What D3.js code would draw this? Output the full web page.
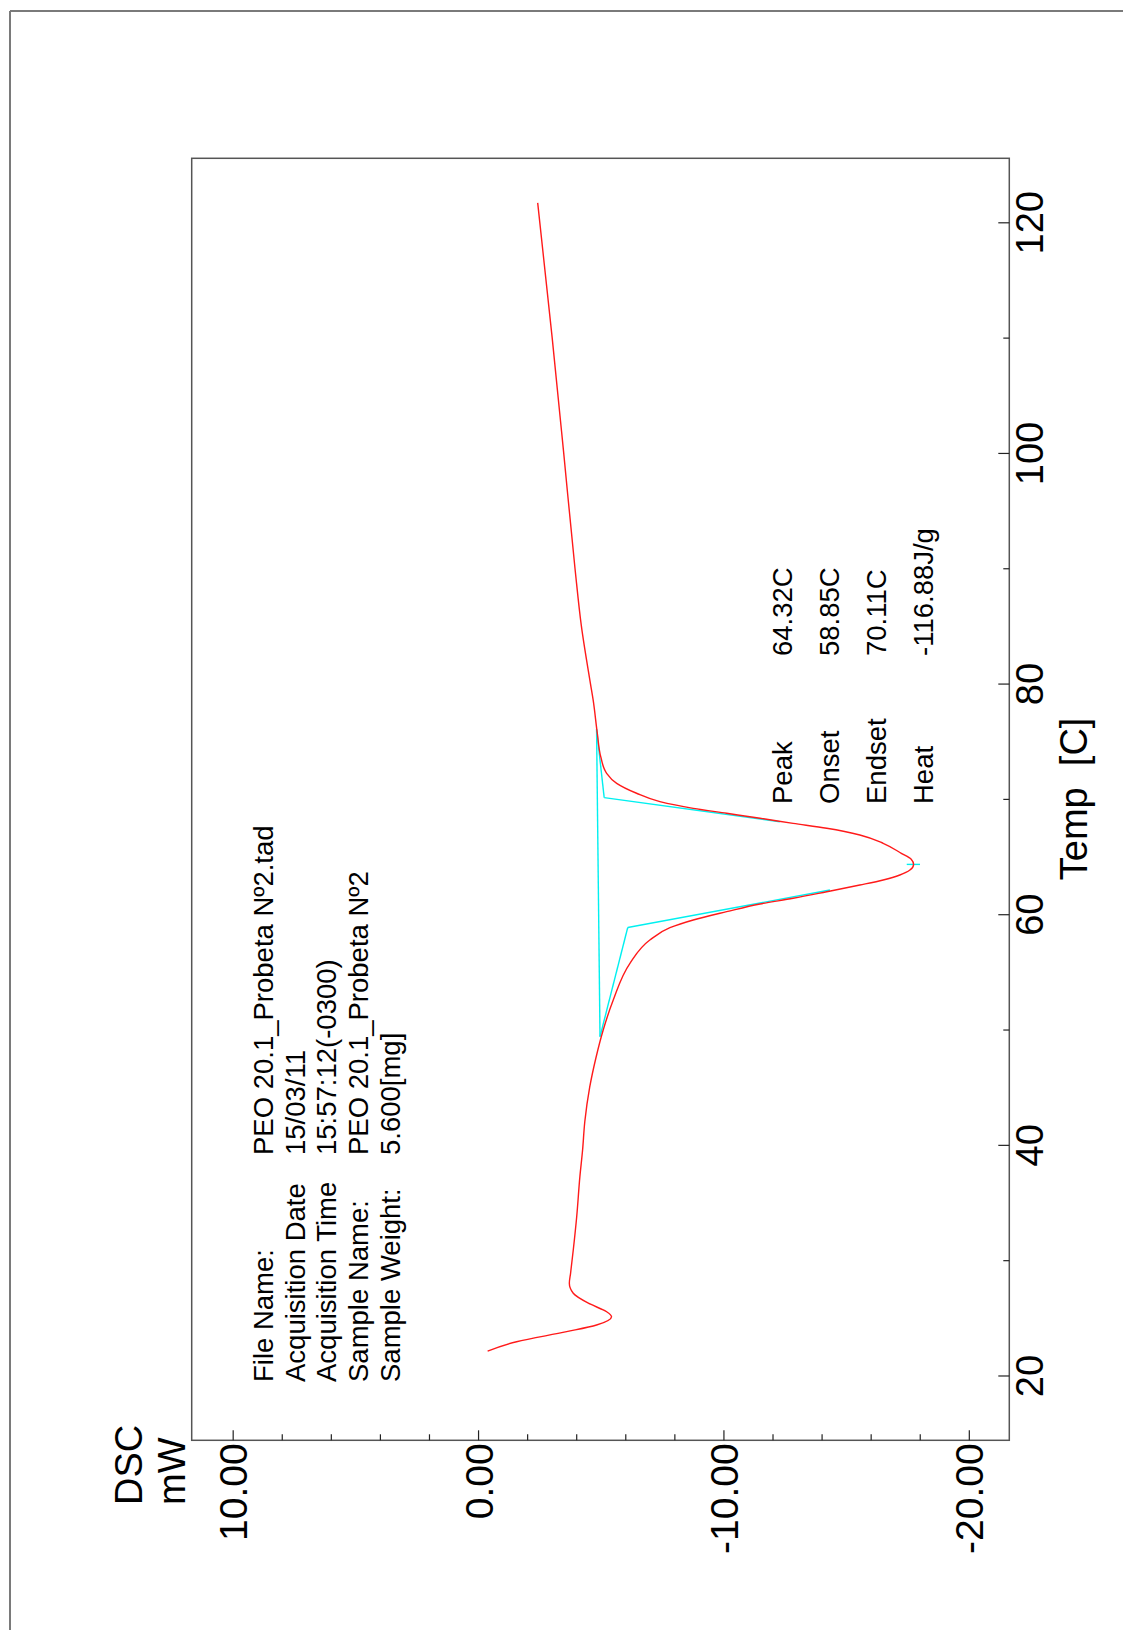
<!DOCTYPE html>
<html>
<head>
<meta charset="utf-8">
<script src="https://cdn.jsdelivr.net/npm/d3@7"></script>
<style>
  html, body { margin: 0; padding: 0; background: #fff; }
  svg { display: block; font-family: "Liberation Sans", Arial, sans-serif; }
</style>
</head>
<body>
<svg id="chart" width="1123" height="1630"></svg>
<script>
// DSC heating scan: temperature (C) and heat flow (mW)
const tempC = [22.12, 22.93, 23.80, 24.38, 25.10, 25.53, 26.20, 27.13, 28.00, 28.86, 30.88, 33.77, 37.24, 39.55,
  42.0, 45.0, 47.51, 49.96, 52.56, 55.74, 57.76, 58.83, 59.50, 60.22, 60.89, 61.38, 61.95, 62.53, 62.97, 63.40, 63.83,
  64.32, 64.75, 65.28, 66.15, 66.87, 67.45, 67.88, 68.32, 68.75, 69.18, 69.76, 70.49, 71.35, 72.22, 73.66, 75.69,
  78.58, 80.0, 85.0, 90.0, 100.0, 110.0, 121.69];
const dscMw = [-0.39, -1.57, -3.61, -4.83, -5.44, -5.24, -4.56, -3.88, -3.72, -3.77, -3.88, -4.02, -4.15, -4.26,
  -4.35, -4.55, -4.80, -5.10, -5.51, -6.19, -7.00, -7.82, -8.77, -10.13, -11.49, -12.84, -14.21, -15.56, -16.51, -17.19, -17.60,
  -17.75, -17.66, -17.25, -16.51, -15.56, -14.21, -12.84, -11.49, -10.13, -8.77, -7.41, -6.46, -5.65, -5.24, -5.00, -4.86,
  -4.69, -4.58, -4.21, -3.95, -3.49, -3.02, -2.43];

// Peak analysis results
const resultLabels = ["Peak", "Onset", "Endset", "Heat"];
const resultValues = [64.32, 58.85, 70.11, -116.88];
const resultUnits = ["C", "C", "C", "J/g"];

// Integration baseline and tangent construction (temperature C, heat flow mW)
const baselineT = [49.38, 76.04];
const baselineMw = [-4.97, -4.83];
const onsetTangentT = [58.85, 62.10];
const onsetTangentMw = [-6.10, -14.34];
const endsetTangentT = [70.11, 68.02];
const endsetTangentMw = [-5.14, -12.30];
const peakMarkMw = [-17.47, -18.01];

// Axis ticks
const dscTicks = [10, 0, -10, -20];
const dscTickLabels = ["10.00", "0.00", "-10.00", "-20.00"];
const dscMinorTicks = [8, 6, 4, 2, -2, -4, -6, -8, -12, -14, -16, -18];
const tempTicks = [20, 40, 60, 80, 100, 120];
const tempMinorTicks = [30, 50, 70, 90, 110];

// Run information
const infoLabels = ["File Name:", "Acquisition Date", "Acquisition Time", "Sample Name:", "Sample Weight:"];
const infoValues = ["PEO 20.1_Probeta N\u00BA2.tad", "15/03/11", "15:57:12(-0300)", "PEO 20.1_Probeta N\u00BA2", "5.600[mg]"];

const svg = d3.select("#chart");

// Page border
svg.append("line").attr("x1", 10).attr("y1", 11).attr("x2", 1123).attr("y2", 11)
  .attr("stroke", "#7a7a7a").attr("stroke-width", 2);
svg.append("line").attr("x1", 10).attr("y1", 11).attr("x2", 10).attr("y2", 1630)
  .attr("stroke", "#7a7a7a").attr("stroke-width", 2);

// Plot area (rotated layout: heat flow runs horizontally, temperature vertically)
const plot = { left: 191.7, top: 158.3, right: 1009.3, bottom: 1440.3 };
const x = d3.scaleLinear().domain([11.67, -21.65]).range([plot.left, plot.right]);
const y = d3.scaleLinear().domain([14.38, 125.55]).range([plot.bottom, plot.top]);

svg.append("rect")
  .attr("x", plot.left).attr("y", plot.top)
  .attr("width", plot.right - plot.left).attr("height", plot.bottom - plot.top)
  .attr("fill", "none").attr("stroke", "#555").attr("stroke-width", 1.5);

// Heat-flow axis along the bottom edge, ticks pointing inward
const bottomMajor = svg.append("g").attr("transform", `translate(0,${plot.bottom})`)
  .call(d3.axisBottom(x).tickValues(dscTicks).tickSize(-10).tickFormat((d, i) => dscTickLabels[i]));
const bottomMinor = svg.append("g").attr("transform", `translate(0,${plot.bottom})`)
  .call(d3.axisBottom(x).tickValues(dscMinorTicks).tickSize(-6).tickFormat(""));
[bottomMajor, bottomMinor].forEach(g => {
  g.select(".domain").remove();
  g.selectAll(".tick line").attr("stroke", "#222").attr("stroke-width", 1.2);
});
bottomMajor.selectAll(".tick text")
  .attr("transform", "rotate(-90)")
  .attr("x", -3).attr("y", 14).attr("dy", 0)
  .attr("text-anchor", "end")
  .attr("font-size", 39).attr("fill", "#000")
  .attr("font-family", "Liberation Sans, Arial, sans-serif");

// Temperature axis along the right edge
const rightMajor = svg.append("g").attr("transform", `translate(${plot.right},0)`)
  .call(d3.axisRight(y).tickValues(tempTicks).tickSize(-11).tickFormat(d3.format("d")));
const rightMinor = svg.append("g").attr("transform", `translate(${plot.right},0)`)
  .call(d3.axisRight(y).tickValues(tempMinorTicks).tickSize(-6).tickFormat(""));
[rightMajor, rightMinor].forEach(g => {
  g.select(".domain").remove();
  g.selectAll(".tick line").attr("stroke", "#222").attr("stroke-width", 1.2);
});
rightMajor.selectAll(".tick text")
  .attr("transform", "rotate(-90)")
  .attr("x", 0).attr("y", 34).attr("dy", 0)
  .attr("text-anchor", "middle")
  .attr("font-size", 38).attr("fill", "#000")
  .attr("font-family", "Liberation Sans, Arial, sans-serif");

// Rotated text helper: (bx, by) is the baseline start, text reads upward
function vtext(bx, by, str, size, anchor) {
  return svg.append("text")
    .attr("transform", `translate(${bx},${by}) rotate(-90)`)
    .attr("text-anchor", anchor || "start")
    .attr("font-size", size)
    .attr("fill", "#000")
    .style("white-space", "pre")
    .text(str);
}

// Axis titles
vtext(141.7, 1505, "DSC", 38);
vtext(185, 1505, "mW", 38);
vtext(1086.7, y(70), "Temp  [C]", 38, "middle");

// Run information block
infoLabels.forEach((s, i) => vtext(273.3 + i * 31.55, 1382, s, 27.5));
infoValues.forEach((s, i) => vtext(273.3 + i * 31.55, 1155, s, 27.5));

// Peak results block
resultLabels.forEach((s, i) => vtext(791.7 + i * 47.2, 804, s, 27.5));
resultValues.forEach((v, i) => vtext(791.7 + i * 47.2, 656, v.toFixed(2) + resultUnits[i], 27.5));

// Integration construction lines
const cyan = "#00f0f0";
function seg(t1, m1, t2, m2) {
  svg.append("line")
    .attr("x1", x(m1)).attr("y1", y(t1)).attr("x2", x(m2)).attr("y2", y(t2))
    .attr("stroke", cyan).attr("stroke-width", 1.4);
}
seg(baselineT[0], baselineMw[0], baselineT[1], baselineMw[1]);
seg(baselineT[0], baselineMw[0], onsetTangentT[0], onsetTangentMw[0]);
seg(onsetTangentT[0], onsetTangentMw[0], onsetTangentT[1], onsetTangentMw[1]);
seg(baselineT[1], baselineMw[1], endsetTangentT[0], endsetTangentMw[0]);
seg(endsetTangentT[0], endsetTangentMw[0], endsetTangentT[1], endsetTangentMw[1]);
seg(resultValues[0], peakMarkMw[0], resultValues[0], peakMarkMw[1]);

// DSC curve (temperature increases monotonically, so a y-monotone spline keeps it smooth)
const pts = tempC.map((t, i) => [dscMw[i], t]);
svg.append("path")
  .datum(pts)
  .attr("d", d3.line().x(d => x(d[0])).y(d => y(d[1])).curve(d3.curveMonotoneY))
  .attr("fill", "none").attr("stroke", "#ff1a1a").attr("stroke-width", 1.4);
</script>
</body>
</html>
